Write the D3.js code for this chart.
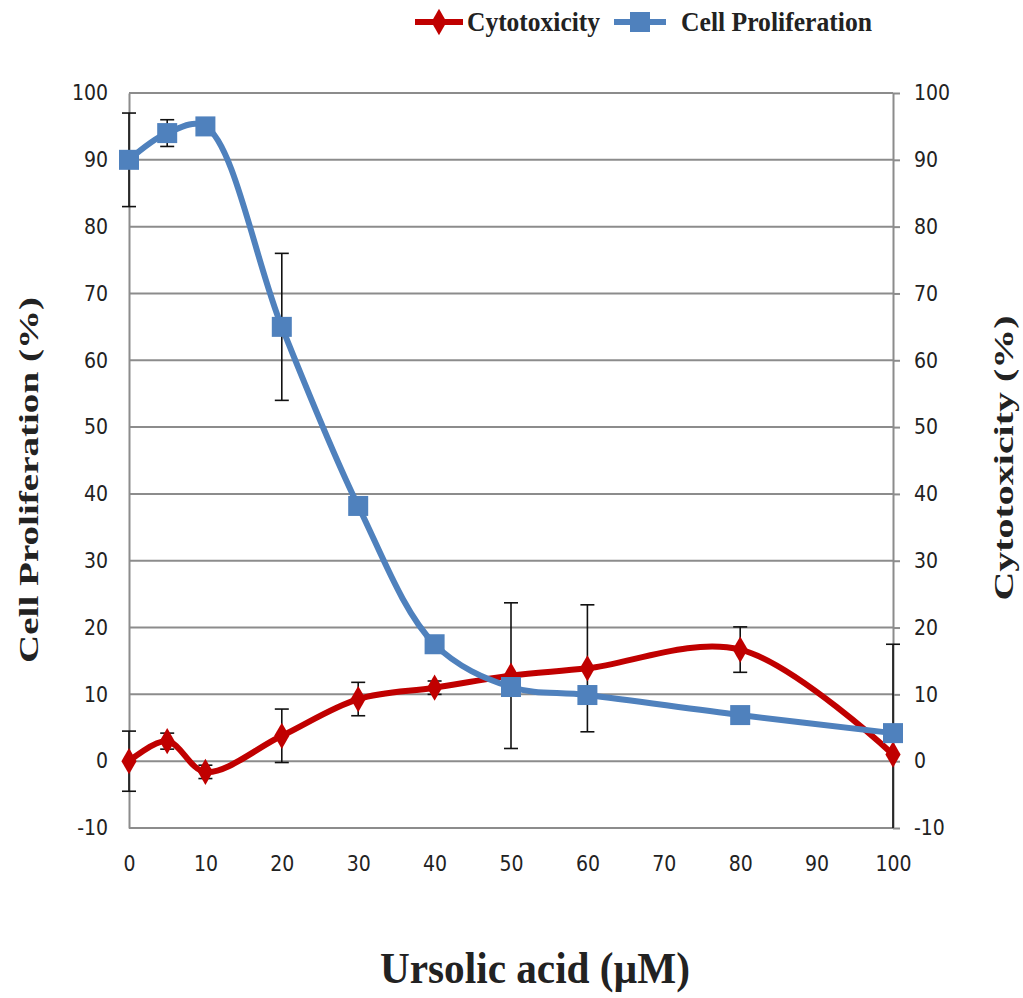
<!doctype html>
<head>
  <style>
    html, body {
      margin: 0;
      padding: 0;
      background: #fff;
    }
    svg text {
      fill: #222;
    }
    .title {
      font-family: "Liberation Serif", serif;
      font-weight: bold;
    }
  </style>
  <script src="https://cdnjs.cloudflare.com/ajax/libs/d3/7.8.5/d3.min.js"></script>
</head>

<body>
  <svg id='chart' width='1023' height='998'></svg>

  <script>
    // concentrations of ursolic acid (uM)
    var conc = [0, 5, 10, 20, 30, 40, 50, 60, 80, 100];
    var prolif = [90, 94, 95, 65, 38.2, 17.5, 11.1, 9.9, 6.9, 4.2];
    var prolifErr = [7, 2, 0.8, 11, 0.8, 0.5, 0.5, 0.5, 0.5, 0.5];
    var cyto = [0, 3, -1.6, 3.8, 9.3, 11, 12.8, 13.9, 16.7, 1];
    var cytoErr = [4.5, 1.2, 1, 4, 2.5, 1, 10.9, 9.5, 3.4, 16.5];
    var xTicks = [0, 10, 20, 30, 40, 50, 60, 70, 80, 90, 100];
    var yTicks = [-10, 0, 10, 20, 30, 40, 50, 60, 70, 80, 90, 100];

    var plotL = 129, plotR = 893, plotT = 93, plotB = 828;
    var blue = '#4f81bd', red = '#c00000';

    var svg = d3.select('#chart');

    var x = d3.scaleLinear().domain([0, 100]).range([plotL, plotR]);
    var y = d3.scaleLinear().domain([-10, 100]).range([plotB, plotT]);

    // grid
    svg.append('g')
        .selectAll('line')
        .data(yTicks)
        .enter().append('line')
        .attr('x1', plotL)
        .attr('x2', plotR)
        .attr('y1', function(d) { return y(d); })
        .attr('y2', function(d) { return y(d); })
        .attr('stroke', '#8c8c8c')
        .attr('stroke-width', 2);

    // left axis (line only, labels)
    var yLeft = svg.append('g')
        .attr('transform', 'translate(' + plotL + ',0)')
        .call(d3.axisLeft(y).tickValues(yTicks).tickFormat(String).tickSize(0).tickPadding(21));
    yLeft.select('.domain').attr('stroke', '#8c8c8c').attr('stroke-width', 2);

    // right axis with outward ticks
    var yRight = svg.append('g')
        .attr('transform', 'translate(' + plotR + ',0)')
        .call(d3.axisRight(y).tickValues(yTicks).tickFormat(String).tickSize(7).tickSizeOuter(0).tickPadding(14));
    yRight.select('.domain').attr('stroke', '#8c8c8c').attr('stroke-width', 2);
    yRight.selectAll('.tick line').attr('stroke', '#8c8c8c').attr('stroke-width', 2);

    // bottom axis
    var xAxis = svg.append('g')
        .attr('transform', 'translate(0,' + plotB + ')')
        .call(d3.axisBottom(x).tickValues(xTicks).tickFormat(String).tickSize(0).tickPadding(28));
    xAxis.select('.domain').remove();

    svg.selectAll('.tick text')
        .style('font', '21px "DejaVu Sans Condensed", "DejaVu Sans", sans-serif')
        .attr('fill', '#333');

    svg.append('clipPath').attr('id', 'plot')
      .append('rect')
        .attr('x', plotL - 20).attr('y', plotT - 20)
        .attr('width', plotR - plotL + 40).attr('height', plotB - plotT + 20);

    var plot = svg.append('g').attr('clip-path', 'url(#plot)');

    var line = d3.line()
        .x(function(d) { return x(d[0]); })
        .y(function(d) { return y(d[1]); })
        .curve(d3.curveCatmullRom.alpha(0.5));

    var prolifData = conc.map(function(c, i) { return [c, prolif[i], prolifErr[i]]; });
    var cytoData = conc.map(function(c, i) { return [c, cyto[i], cytoErr[i]]; });

    function errorBars(data) {
      var g = plot.append('g').attr('stroke', '#111').attr('stroke-width', 1.6);
      data.forEach(function(d) {
        var lo = Math.max(d[1] - d[2], -10), hi = d[1] + d[2];
        g.append('line')
            .attr('x1', x(d[0])).attr('x2', x(d[0]))
            .attr('y1', y(lo)).attr('y2', y(hi));
        g.append('line')
            .attr('x1', x(d[0]) - 7).attr('x2', x(d[0]) + 7)
            .attr('y1', y(hi)).attr('y2', y(hi));
        if (d[1] - d[2] >= -10)
          g.append('line')
              .attr('x1', x(d[0]) - 7).attr('x2', x(d[0]) + 7)
              .attr('y1', y(lo)).attr('y2', y(lo));
      });
    }

    errorBars(cytoData);
    errorBars(prolifData);

    plot.append('path')
        .datum(cytoData)
        .attr('d', line)
        .attr('fill', 'none')
        .attr('stroke', red)
        .attr('stroke-width', 6);

    plot.append('path')
        .datum(prolifData)
        .attr('d', line)
        .attr('fill', 'none')
        .attr('stroke', blue)
        .attr('stroke-width', 6);

    var diamond = d3.symbol().type(d3.symbolDiamond).size(200);

    plot.selectAll('path.cyto')
        .data(cytoData)
        .enter().append('path')
        .attr('class', 'cyto')
        .attr('d', diamond)
        .attr('transform', function(d) { return 'translate(' + x(d[0]) + ',' + y(d[1]) + ')'; })
        .attr('fill', red);

    plot.selectAll('rect.prolif')
        .data(prolifData)
        .enter().append('rect')
        .attr('class', 'prolif')
        .attr('x', function(d) { return x(d[0]) - 10; })
        .attr('y', function(d) { return y(d[1]) - 10; })
        .attr('width', 20)
        .attr('height', 20)
        .attr('fill', blue);

    // legend
    var legend = svg.append('g');
    legend.append('line')
        .attr('x1', 415).attr('x2', 463).attr('y1', 22).attr('y2', 22)
        .attr('stroke', red).attr('stroke-width', 6);
    legend.append('path')
        .attr('d', diamond)
        .attr('transform', 'translate(439,22)')
        .attr('fill', red);
    legend.append('text')
        .attr('class', 'title')
        .attr('x', 467).attr('y', 31)
        .attr('textLength', 133)
        .attr('lengthAdjust', 'spacingAndGlyphs')
        .style('font-size', '27px')
        .text('Cytotoxicity');

    legend.append('line')
        .attr('x1', 614).attr('x2', 666).attr('y1', 22).attr('y2', 22)
        .attr('stroke', blue).attr('stroke-width', 6);
    legend.append('rect')
        .attr('x', 630).attr('y', 12).attr('width', 20).attr('height', 20)
        .attr('fill', blue);
    legend.append('text')
        .attr('class', 'title')
        .attr('x', 681).attr('y', 31)
        .attr('textLength', 191)
        .attr('lengthAdjust', 'spacingAndGlyphs')
        .style('font-size', '27px')
        .text('Cell Proliferation');

    // axis titles
    svg.append('text')
        .attr('class', 'title')
        .attr('transform', 'translate(38,480) rotate(-90)')
        .attr('text-anchor', 'middle')
        .attr('textLength', 366)
        .attr('lengthAdjust', 'spacingAndGlyphs')
        .style('font-size', '27px')
        .text('Cell Proliferation (%)');

    svg.append('text')
        .attr('class', 'title')
        .attr('transform', 'translate(1013,458) rotate(-90)')
        .attr('text-anchor', 'middle')
        .attr('textLength', 285)
        .attr('lengthAdjust', 'spacingAndGlyphs')
        .style('font-size', '27px')
        .text('Cytotoxicity (%)');

    svg.append('text')
        .attr('class', 'title')
        .attr('x', 535).attr('y', 983)
        .attr('text-anchor', 'middle')
        .attr('textLength', 310)
        .attr('lengthAdjust', 'spacingAndGlyphs')
        .style('font-size', '44px')
        .text('Ursolic acid (µM)');
  </script>
</body>
